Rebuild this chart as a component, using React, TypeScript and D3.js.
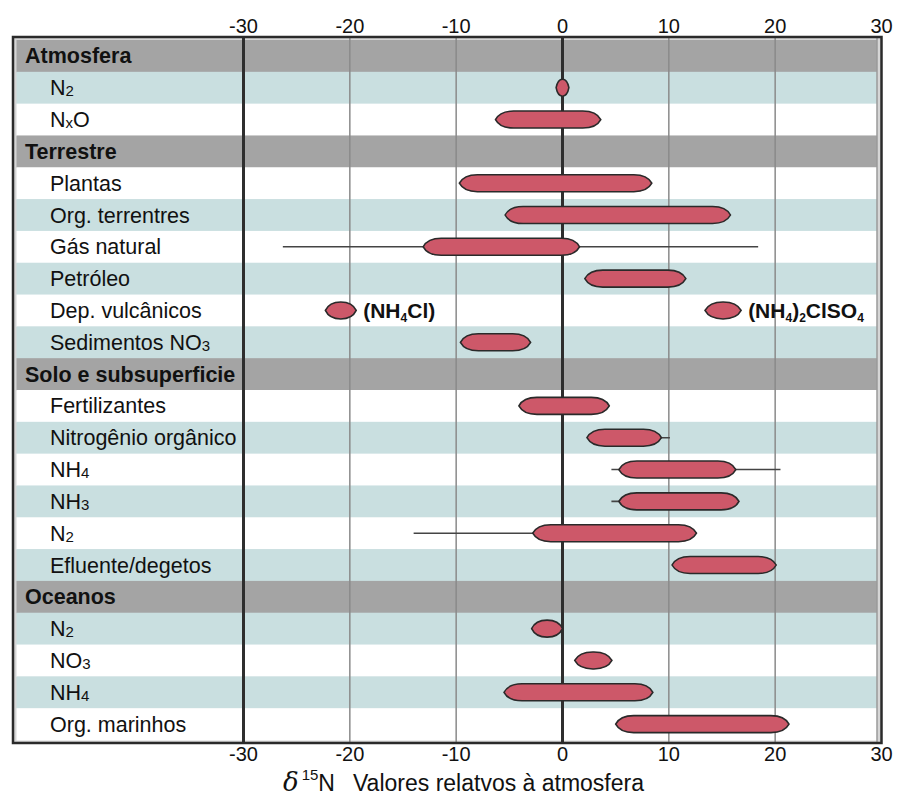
import React from 'react';
import * as d3 from 'd3';

const groupNames = ['Atmosfera', 'Terrestre', 'Solo e subsuperficie', 'Oceanos'];

const itemLabels = [
  'N_{2}', 'N_{x}O',
  'Plantas', 'Org. terrentres', 'Gás natural', 'Petróleo', 'Dep. vulcânicos', 'Sedimentos NO_{3}',
  'Fertilizantes', 'Nitrogênio orgânico', 'NH_{4}', 'NH_{3}', 'N_{2}', 'Efluente/degetos',
  'N_{2}', 'NO_{3}', 'NH_{4}', 'Org. marinhos',
];
const itemGroup = [0, 0, 1, 1, 1, 1, 1, 1, 2, 2, 2, 2, 2, 2, 3, 3, 3, 3];

// main range (lens) per item, δ15N ‰
const itemRanges: number[][][] = [
  [[-0.6, 0.6]], [[-6.3, 3.6]],
  [[-9.7, 8.4]], [[-5.4, 15.8]], [[-13.1, 1.6]], [[2.1, 11.6]], [[-22.3, -19.4], [13.4, 16.8]], [[-9.6, -3.0]],
  [[-4.1, 4.4]], [[2.3, 9.3]], [[5.3, 16.3]], [[5.3, 16.6]], [[-2.8, 12.6]], [[10.3, 20.1]],
  [[-2.9, 0]], [[1.15, 4.65]], [[-5.5, 8.5]], [[5.0, 21.3]],
];
// extreme values (thin line)
const itemWhiskers: (number[] | null)[] = [
  null, null,
  null, null, [-26.3, 18.4], null, null, null,
  null, [2.3, 10.1], [4.6, 20.5], [4.6, 16.6], [-14, 12.6], null,
  null, null, null, null,
];
const annotations = [
  { item: 6, range: 0, text: '(NH_{4}Cl)' },
  { item: 6, range: 1, text: '(NH_{4})_{2}ClSO_{4}' },
];
const xTicks = [-30, -20, -10, 0, 10, 20, 30];

const W = 897;
const H = 796;
const frameL = 13;
const frameT = 37;
const frameB = 743;
const innerL = 16.5;
const innerR = 877;
const rowTop = 40;
const rowBottom = 740;
const stripeStartsShaded = [true, false, false, true];
const font = '"Liberation Sans", Arial, Helvetica, sans-serif';

const SHADE = '#c9dfe0';
const HEAD = '#a4a4a4';
const BAR = '#cd5869';

// "NH_{4}" -> NH with a small 4
function richText(s: string, subSize: string, dy: number) {
  const parts: React.ReactNode[] = [];
  const re = /_\{([^}]*)\}/g;
  let last = 0;
  let m;
  let k = 0;
  let pendingUp = 0;
  while ((m = re.exec(s)) !== null) {
    if (m.index > last) {
      parts.push(<tspan key={k++} dy={pendingUp || undefined}>{s.slice(last, m.index)}</tspan>);
      pendingUp = 0;
    }
    parts.push(<tspan key={k++} fontSize={subSize} dy={dy + pendingUp}>{m[1]}</tspan>);
    pendingUp = -dy;
    last = m.index + m[0].length;
  }
  if (last < s.length) parts.push(<tspan key={k++} dy={pendingUp || undefined}>{s.slice(last)}</tspan>);
  return parts;
}

function lens(x0: number, x1: number, cy: number, h: number) {
  const t = Math.min(18, (x1 - x0) / 2);
  const top = cy - h / 2;
  const bot = cy + h / 2;
  const c1 = t * 0.15;
  const c2 = t * 0.45;
  return `M${x0},${cy}` +
    `C${x0 + c1},${cy - h * 0.3} ${x0 + c2},${top} ${x0 + t},${top}` +
    `L${x1 - t},${top}` +
    `C${x1 - c2},${top} ${x1 - c1},${cy - h * 0.3} ${x1},${cy}` +
    `C${x1 - c1},${cy + h * 0.3} ${x1 - c2},${bot} ${x1 - t},${bot}` +
    `L${x0 + t},${bot}` +
    `C${x0 + c2},${bot} ${x0 + c1},${cy + h * 0.3} ${x0},${cy}Z`;
}

export default function App() {
  type Row = { key: string; label: string; header: boolean; shaded: boolean; item: number };
  const rows: Row[] = [];
  groupNames.forEach((g, gi) => {
    rows.push({ key: `g${gi}`, label: g, header: true, shaded: false, item: -1 });
    let n = 0;
    itemLabels.forEach((lab, i) => {
      if (itemGroup[i] !== gi) return;
      const shaded = stripeStartsShaded[gi] ? n % 2 === 0 : n % 2 === 1;
      rows.push({ key: `i${i}`, label: lab, header: false, shaded, item: i });
      n++;
    });
  });

  const x = d3.scaleLinear().domain([-30, 30]).range([243.5, 881.5]);
  const y = d3.scaleBand<string>().domain(rows.map(r => r.key)).range([rowTop, rowBottom]);
  const bh = y.bandwidth();
  const barH = 17;
  const fmt = (t: number) => d3.format('d')(t).replace('−', '-');

  return (
    <div style={{ position: 'absolute', left: 0, top: 0 }}>
      <svg width={W} height={H} style={{ display: 'block', background: '#fff' }} fontFamily={font}>
        <rect x={frameL} y={frameT} width={x(30) - frameL} height={frameB - frameT} fill="#d6d6d6" />
        {rows.map(r => (
          <rect key={r.key} x={innerL} y={y(r.key)} width={innerR - innerL} height={bh + 0.5}
            fill={r.header ? HEAD : r.shaded ? SHADE : '#fff'} />
        ))}
        <line x1={innerR} x2={innerR} y1={frameT} y2={frameB} stroke="#9a9a9a" strokeWidth={1.5} />

        {xTicks.filter(t => t !== -30 && t !== 0 && t !== 30).map(t => (
          <line key={t} x1={x(t)} x2={x(t)} y1={frameT} y2={frameB} stroke="#8a8a8a" strokeWidth={1.5} />
        ))}
        {[-30, 0].map(t => (
          <line key={t} x1={x(t)} x2={x(t)} y1={frameT} y2={frameB} stroke="#2e2e2e" strokeWidth={3} />
        ))}

        <rect x={frameL} y={frameT} width={x(30) - frameL} height={frameB - frameT}
          fill="none" stroke="#2a2a2a" strokeWidth={2.5} />

        {rows.map(r => {
          const yy = (y(r.key) as number) + bh / 2 + 7.5;
          return r.header ? (
            <text key={r.key} x={25} y={yy} fontSize={21.5} fontWeight="bold" fill="#111">{r.label}</text>
          ) : (
            <text key={r.key} x={50} y={yy} fontSize={21.5} fill="#111">{richText(r.label, '15px', 1)}</text>
          );
        })}

        {rows.filter(r => !r.header).map(r => {
          const cy = (y(r.key) as number) + bh / 2;
          const wk = itemWhiskers[r.item];
          return (
            <g key={r.key}>
              {wk && <line x1={x(wk[0])} x2={x(wk[1])} y1={cy} y2={cy} stroke="#444" strokeWidth={1.6} />}
              {itemRanges[r.item].map((rg, j) => (
                <path key={j} d={lens(x(rg[0]), x(rg[1]), cy, barH)} fill={BAR} stroke="#2a2a2a" strokeWidth={1.6} />
              ))}
            </g>
          );
        })}

        {annotations.map((a, i) => {
          const cy = (y(`i${a.item}`) as number) + bh / 2;
          return (
            <text key={i} x={x(itemRanges[a.item][a.range][1]) + 7} y={cy + 7.5} fontSize={21} fontWeight="bold" fill="#111">
              {richText(a.text, '12px', 4)}
            </text>
          );
        })}

        {xTicks.map(t => (
          <g key={t}>
            <text x={x(t)} y={33} textAnchor="middle" fontSize={20} fill="#111">{fmt(t)}</text>
            <text x={x(t)} y={761} textAnchor="middle" fontSize={20} fill="#111">{fmt(t)}</text>
          </g>
        ))}

        <text x={283} y={791} fill="#111">
          <tspan fontFamily='"DejaVu Serif", "Liberation Serif", serif' fontStyle="italic" fontSize={26}>δ</tspan>
          <tspan fontSize={15} dy={-11} dx={3}>15</tspan>
          <tspan fontSize={23} dy={11}>N</tspan>
          <tspan fontSize={23} dx={18}>Valores relatvos à atmosfera</tspan>
        </text>
      </svg>
    </div>
  );
}
